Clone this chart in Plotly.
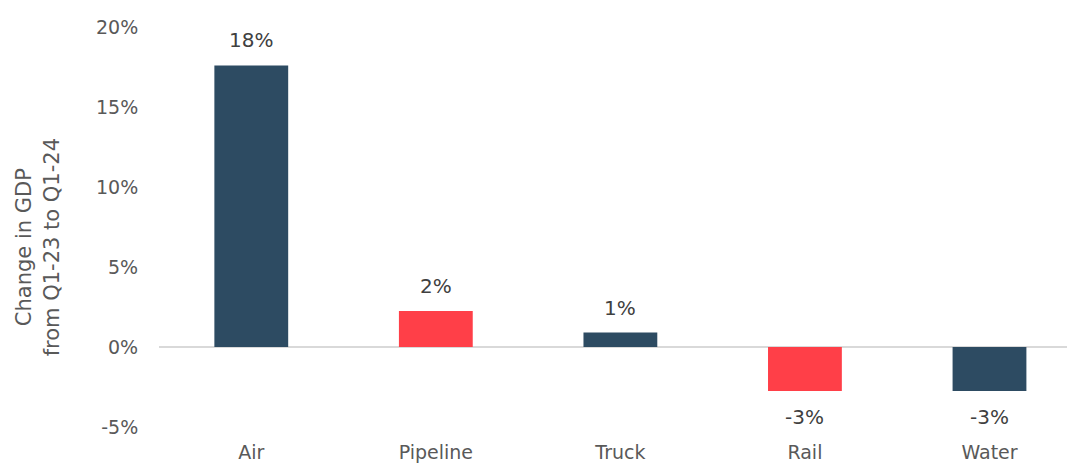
import plotly.graph_objects as go

categories = ["Air", "Pipeline", "Truck", "Rail", "Water"]
values = [17.6, 2.25, 0.9, -2.75, -2.75]
bar_colors = ["#2D4B62", "#FF3F48", "#2D4B62", "#FF3F48", "#2D4B62"]
y_ticks = [-5, 0, 5, 10, 15, 20]
y_tick_labels = ["-5%", "0%", "5%", "10%", "15%", "20%"]

FONT = "DejaVu Sans, sans-serif"
TXT = "#595959"

fig = go.Figure()
fig.add_trace(go.Bar(
    x=categories, y=values, marker_color=bar_colors, width=0.4,
    marker_line_width=0, hoverinfo="skip",
))

for c, v in zip(categories, values):
    fig.add_annotation(
        x=c, y=v, text=f"{round(v):.0f}%", showarrow=False,
        yanchor="middle", yshift=25 if v >= 0 else -26,
        font=dict(family=FONT, size=20, color="#404040"),
    )

fig.add_annotation(
    xref="paper", yref="paper", x=-0.134, y=0.45,
    text="Change in GDP<br>from Q1-23 to Q1-24", textangle=-90,
    showarrow=False, font=dict(family=FONT, size=21, color=TXT),
    xanchor="center", yanchor="middle",
)

fig.update_layout(
    width=1067, height=464,
    margin=dict(l=159, r=0, t=27, b=37),
    paper_bgcolor="white", plot_bgcolor="white",
    showlegend=False,
    font=dict(family=FONT, size=19, color=TXT),
)
fig.update_xaxes(
    range=[-0.5, 4.42], showgrid=False, showline=False, zeroline=False,
    ticks="outside", ticklen=8, tickcolor="rgba(0,0,0,0)", automargin=False,
    tickfont=dict(family=FONT, size=19, color=TXT),
)
fig.update_yaxes(
    range=[-5, 20], tickvals=y_ticks, ticktext=y_tick_labels,
    showgrid=False, showline=False, zeroline=True, zerolinecolor="#D9D9D9",
    zerolinewidth=2, automargin=False,
    ticks="outside", ticklen=16, tickcolor="rgba(0,0,0,0)",
    tickfont=dict(family=FONT, size=19, color=TXT),
)

fig.write_html(
    "out.html",
    config={"displayModeBar": False},
    post_script="document.body.style.margin='0';document.documentElement.style.overflow='hidden';",
)
